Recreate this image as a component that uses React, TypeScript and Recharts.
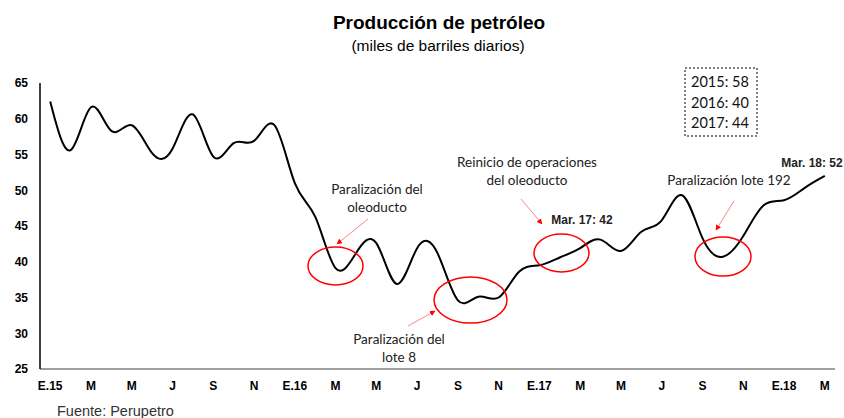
import React from 'react';
import { LineChart, Line, XAxis, YAxis } from 'recharts';

// monthly categories Jan 2015 - Mar 2018 (only every other one is shown)
const months = [
  'E.15', 'F', 'M', 'A', 'M', 'J', 'J', 'A', 'S', 'O', 'N', 'D',
  'E.16', 'F', 'M', 'A', 'M', 'J', 'J', 'A', 'S', 'O', 'N', 'D',
  'E.17', 'F', 'M', 'A', 'M', 'J', 'J', 'A', 'S', 'O', 'N', 'D',
  'E.18', 'F', 'M',
];

// miles de barriles diarios
const production = [
  62.4, 55.6, 61.6, 58.3, 59.1, 55.2, 55.8, 60.6, 54.7, 56.6, 56.9, 59.1,
  51.0, 46.3, 39.1, 41.2, 42.6, 36.9, 41.9, 41.2, 34.6, 35.1, 35.0, 38.6,
  39.5, 40.6, 41.9, 43.1, 41.5, 44.2, 45.8, 49.3, 43.3, 40.7, 43.6, 47.9,
  48.6, 50.3, 52.0,
];

const yTicks = [25, 30, 35, 40, 45, 50, 55, 60, 65];

const yearlyAverages = ['2015: 58', '2016: 40', '2017: 44'];

const data = months.map((m, i) => ({ month: m, value: production[i] }));

const annotFont = 'Lato, "Open Sans", sans-serif';
const red = '#ff0000';

const Arrow = ({ x1, y1, x2, y2 }: { x1: number; y1: number; x2: number; y2: number }) => (
  <line x1={x1} y1={y1} x2={x2} y2={y2} stroke="#ff6666" strokeWidth={0.8} markerEnd="url(#arrowHead)" />
);

const App: React.FC = () => {
  return (
    <div
      style={{
        position: 'absolute',
        left: 0,
        top: 0,
        width: 844,
        height: 418,
        background: '#fff',
        fontFamily: '"Liberation Sans", Arial, sans-serif',
      }}
    >
      <LineChart width={844} height={418} data={data} margin={{ top: 83, right: 9, left: 0, bottom: 19 }}>
        <XAxis
          dataKey="month"
          interval={1}
          height={30}
          padding={{ left: 10.2, right: 10.2 }}
          axisLine={{ stroke: '#7f7f7f', strokeWidth: 1.5 }}
          tickLine={false}
          tickSize={6}
          tickMargin={6}
          tick={{ fill: '#000', fontSize: 12, fontWeight: 'bold' }}
        />
        <YAxis
          domain={[25, 65]}
          ticks={yTicks}
          width={40}
          axisLine={{ stroke: '#000', strokeWidth: 1.5 }}
          tickLine={false}
          tickSize={6}
          tickMargin={6}
          tick={{ fill: '#000', fontSize: 12, fontWeight: 'bold' }}
        />
        <Line
          type="natural"
          dataKey="value"
          stroke="#000"
          strokeWidth={2}
          dot={false}
          activeDot={false}
          isAnimationActive={false}
        />
      </LineChart>

      <svg
        width={844}
        height={418}
        style={{ position: 'absolute', left: 0, top: 0, pointerEvents: 'none' }}
      >
        <defs>
          <marker id="arrowHead" viewBox="0 0 10 10" refX="9" refY="5" markerWidth="7" markerHeight="7" orient="auto">
            <path d="M0,0 L10,5 L0,10 z" fill={red} />
          </marker>
        </defs>

        <text x={439} y={29} textAnchor="middle" fontSize={19} fontWeight="bold" fill="#000">
          Producción de petróleo
        </text>
        <text x={438} y={51} textAnchor="middle" fontSize={15.5} fill="#000">
          (miles de barriles diarios)
        </text>

        {/* yearly averages box */}
        <rect x={685} y={68} width={72} height={68} fill="#fff" stroke="#000" strokeWidth={1} strokeDasharray="2 2" />
        {yearlyAverages.map((t, i) => (
          <text key={t} x={691} y={87 + i * 20.5} fontSize={14.5} fill="#111" fontFamily={annotFont}>
            {t}
          </text>
        ))}

        {/* Paralización del oleoducto */}
        <text x={377} y={194} textAnchor="middle" fontSize={13.5} fill="#222" fontFamily={annotFont}>
          Paralización del
        </text>
        <text x={377} y={212} textAnchor="middle" fontSize={13.5} fill="#222" fontFamily={annotFont}>
          oleoducto
        </text>
        <Arrow x1={368} y1={219} x2={337} y2={244} />
        <ellipse cx={335.5} cy={266} rx={27.5} ry={19} fill="none" stroke={red} strokeWidth={1.5} />

        {/* Paralización del lote 8 */}
        <text x={399} y={344} textAnchor="middle" fontSize={13.5} fill="#222" fontFamily={annotFont}>
          Paralización del
        </text>
        <text x={399} y={362} textAnchor="middle" fontSize={13.5} fill="#222" fontFamily={annotFont}>
          lote 8
        </text>
        <Arrow x1={408} y1={326} x2={435} y2={311} />
        <ellipse cx={470.5} cy={300} rx={36.5} ry={23} fill="none" stroke={red} strokeWidth={1.5} />

        {/* Reinicio de operaciones */}
        <text x={527} y={167} textAnchor="middle" fontSize={13.5} fill="#222" fontFamily={annotFont}>
          Reinicio de operaciones
        </text>
        <text x={527} y={185} textAnchor="middle" fontSize={13.5} fill="#222" fontFamily={annotFont}>
          del oleoducto
        </text>
        <Arrow x1={521} y1={199} x2={542} y2={224} />
        <text x={582} y={224} textAnchor="middle" fontSize={12} fontWeight="bold" fill="#222">
          Mar. 17: 42
        </text>
        <ellipse cx={561.5} cy={253} rx={27.5} ry={19} fill="none" stroke={red} strokeWidth={1.5} />

        {/* Paralización lote 192 */}
        <text x={729} y={185} textAnchor="middle" fontSize={13.5} fill="#222" fontFamily={annotFont}>
          Paralización lote 192
        </text>
        <Arrow x1={734} y1={201} x2={716} y2={230} />
        <ellipse cx={723} cy={256.5} rx={28} ry={19.5} fill="none" stroke={red} strokeWidth={1.5} />

        <text x={812} y={167} textAnchor="middle" fontSize={12} fontWeight="bold" fill="#222">
          Mar. 18: 52
        </text>

        <text x={57} y={416} fontSize={14.5} fill="#333">
          Fuente: Perupetro
        </text>
      </svg>
    </div>
  );
};

export default App;
